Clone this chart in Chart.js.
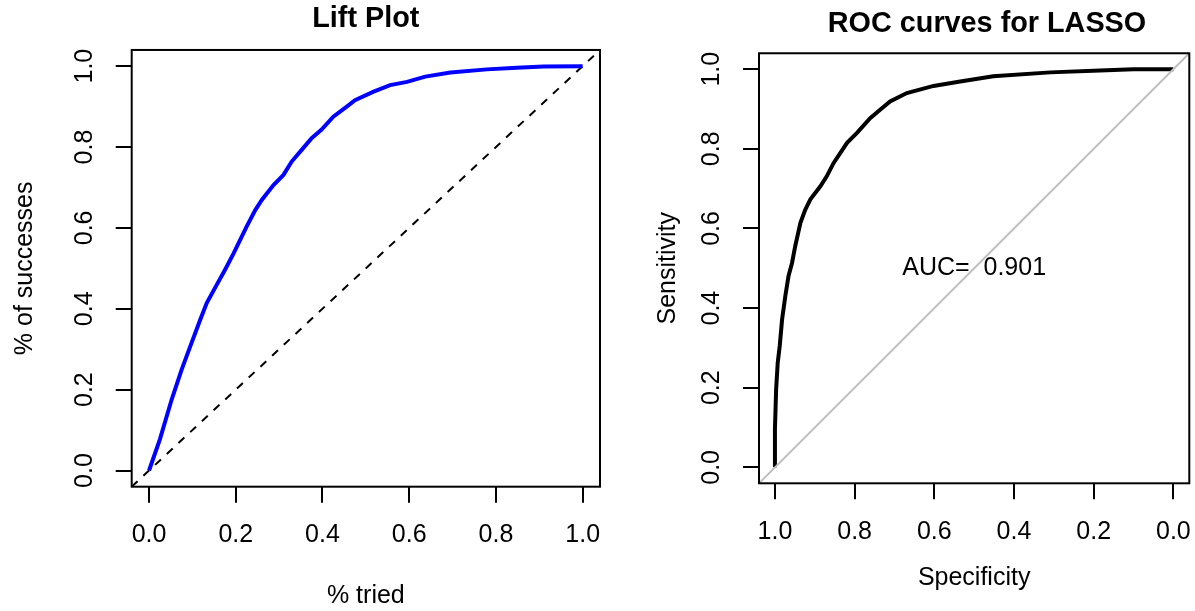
<!DOCTYPE html>
<html>
<head>
<meta charset="utf-8">
<script src="https://cdn.jsdelivr.net/npm/chart.js@4.4.1/dist/chart.umd.min.js"></script>
<style>
    html, body { margin: 0; padding: 0; background: #fff; overflow: hidden; width: 1195px; height: 611px; }
    #liftWrap { position: absolute; left: 0; top: 0; width: 640px; height: 611px; }
    #rocWrap { position: absolute; left: 640px; top: 0; width: 694px; height: 611px; }
</style>
</head>
<body>
<div id="liftWrap"><canvas id="liftChart" width="640" height="611"></canvas></div>
<div id="rocWrap"><canvas id="rocChart" width="694" height="611"></canvas></div>
<script>
// Lift curve
const liftX = [0, 0.025, 0.052, 0.075, 0.095, 0.118, 0.133, 0.156, 0.175, 0.195, 0.225, 0.245, 0.260, 0.287, 0.310, 0.329, 0.352, 0.375, 0.398, 0.425, 0.456, 0.475, 0.518, 0.556, 0.595, 0.637, 0.695, 0.779, 0.848, 0.910, 1.0];
const liftY = [0, 0.077, 0.175, 0.249, 0.307, 0.373, 0.414, 0.459, 0.496, 0.537, 0.603, 0.644, 0.669, 0.706, 0.731, 0.764, 0.793, 0.822, 0.843, 0.875, 0.900, 0.916, 0.937, 0.953, 0.961, 0.974, 0.984, 0.992, 0.996, 0.999, 1.0];

// ROC curve for LASSO
const rocSpec = [1.0, 1.0, 0.997, 0.993, 0.988, 0.982, 0.974, 0.966, 0.957, 0.949, 0.936, 0.924, 0.911, 0.886, 0.870, 0.853, 0.819, 0.794, 0.761, 0.736, 0.711, 0.669, 0.602, 0.535, 0.452, 0.309, 0.184, 0.100, 0.0];
const rocSens = [0, 0.096, 0.196, 0.263, 0.305, 0.372, 0.430, 0.480, 0.514, 0.556, 0.614, 0.647, 0.673, 0.706, 0.731, 0.764, 0.815, 0.840, 0.877, 0.898, 0.919, 0.940, 0.958, 0.969, 0.982, 0.992, 0.997, 1.0, 1.0];

// axis ticks and limits (R style 4% extension)
const tickValues = [0, 0.2, 0.4, 0.6, 0.8, 1.0];
const axisMin = -0.04;
const axisMax = 1.04;
// reference diagonal, drawn corner to corner
const diagLine = [-0.04, 1.04];
const aucLabel = 'AUC=  0.901';
const aucPos = [0.5, 0.5];

Chart.defaults.font.family = "'Liberation Sans', Arial, Helvetica, sans-serif";
Chart.defaults.color = '#000';

// draws the plot frame
const boxPlugin = {
    id: 'box',
    afterDatasetsDraw(chart) {
        const a = chart.chartArea;
        const ctx = chart.ctx;
        ctx.save();
        ctx.strokeStyle = '#000';
        ctx.lineWidth = 2;
        ctx.strokeRect(a.left, a.top, a.right - a.left, a.bottom - a.top);
        ctx.restore();
    }
};

// AUC text at data coords
const aucPlugin = {
    id: 'aucText',
    afterDatasetsDraw(chart) {
        const ctx = chart.ctx;
        const x = chart.scales.x.getPixelForValue(aucPos[0]);
        const y = chart.scales.y.getPixelForValue(aucPos[1]);
        ctx.save();
        ctx.font = "25px 'Liberation Sans', Arial, sans-serif";
        ctx.fillStyle = '#000';
        ctx.textAlign = 'center';
        ctx.textBaseline = 'middle';
        ctx.fillText(aucLabel, x, y);
        ctx.restore();
    }
};

function setTicks(axis) {
    axis.ticks = tickValues.map(v => ({ value: v }));
}

function xAxis(titleText, height, titlePad, reverse) {
    return {
        type: 'linear',
        min: axisMin,
        max: axisMax,
        reverse: reverse,
        afterBuildTicks: setTicks,
        afterFit: (scale) => { scale.height = height; },
        grid: { drawOnChartArea: false, drawTicks: true, tickLength: 16, color: '#000', lineWidth: 2 },
        border: { display: false },
        ticks: {
            font: { size: 25 },
            padding: 17.4,
            maxRotation: 0,
            minRotation: 0,
            callback: v => v.toFixed(1)
        },
        title: {
            display: true,
            text: titleText,
            font: { size: 25, lineHeight: 1 },
            padding: { top: 0, bottom: titlePad }
        }
    };
}

function yAxis(titleText, width, titlePad) {
    return {
        type: 'linear',
        min: axisMin,
        max: axisMax,
        afterBuildTicks: setTicks,
        afterFit: (scale) => { scale.width = width; },
        grid: { drawOnChartArea: false, drawTicks: true, tickLength: 16, color: '#000', lineWidth: 2 },
        border: { display: false },
        ticks: {
            font: { size: 25 },
            padding: 13.3,
            minRotation: 90,
            maxRotation: 90,
            crossAlign: 'center',
            callback: v => v.toFixed(1)
        },
        title: {
            display: true,
            text: titleText,
            font: { size: 25, lineHeight: 1 },
            padding: { top: titlePad, bottom: 0 }
        }
    };
}

// Lift plot
new Chart(document.getElementById('liftChart'), {
    type: 'line',
    data: {
        datasets: [{
            data: liftX.map((x, i) => ({ x: x, y: liftY[i] })),
            borderColor: '#0000ff',
            borderWidth: 4,
            pointRadius: 0,
            tension: 0
        }, {
            data: diagLine.map(v => ({ x: v, y: v })),
            borderColor: '#000',
            borderWidth: 2,
            borderDash: [8, 8],
            pointRadius: 0,
            tension: 0
        }]
    },
    options: {
        responsive: false,
        animation: false,
        layout: { padding: { left: 0, right: 40, top: 0, bottom: 0 } },
        plugins: {
            legend: { display: false },
            tooltip: { enabled: false },
            title: {
                display: true,
                text: 'Lift Plot',
                fullSize: false,
                font: { size: 28.8, weight: 'bold', lineHeight: 1.2 },
                padding: { top: 1.4, bottom: 14 }
            }
        },
        scales: {
            x: xAxis('% tried', 124.3, 2.5, false),
            y: yAxis('% of successes', 131.7, 12.5)
        }
    },
    plugins: [boxPlugin]
});

// ROC curve
const rocScales = {
    x: xAxis('Specificity', 127.7, 20.5, true),
    y: yAxis('Sensitivity', 119, 15.5),
    yR: {
        type: 'linear',
        position: 'right',
        display: true,
        afterFit: (scale) => { scale.width = 144.7; },
        grid: { display: false },
        border: { display: false },
        ticks: { display: false }
    }
};

new Chart(document.getElementById('rocChart'), {
    type: 'line',
    data: {
        datasets: [{
            data: diagLine.map(v => ({ x: v, y: 1 - v })),
            borderColor: '#bebebe',
            borderWidth: 2,
            pointRadius: 0,
            tension: 0
        }, {
            data: rocSpec.map((s, i) => ({ x: s, y: rocSens[i] })),
            borderColor: '#000',
            borderWidth: 4,
            pointRadius: 0,
            tension: 0
        }]
    },
    options: {
        responsive: false,
        animation: false,
        layout: { padding: 0 },
        plugins: {
            legend: { display: false },
            tooltip: { enabled: false },
            title: {
                display: true,
                text: 'ROC curves for LASSO',
                fullSize: true,
                font: { size: 28.8, weight: 'bold', lineHeight: 1.2 },
                padding: { top: 6.5, bottom: 12.2 }
            }
        },
        scales: rocScales
    },
    plugins: [boxPlugin, aucPlugin]
});
</script>
</body>
</html>
